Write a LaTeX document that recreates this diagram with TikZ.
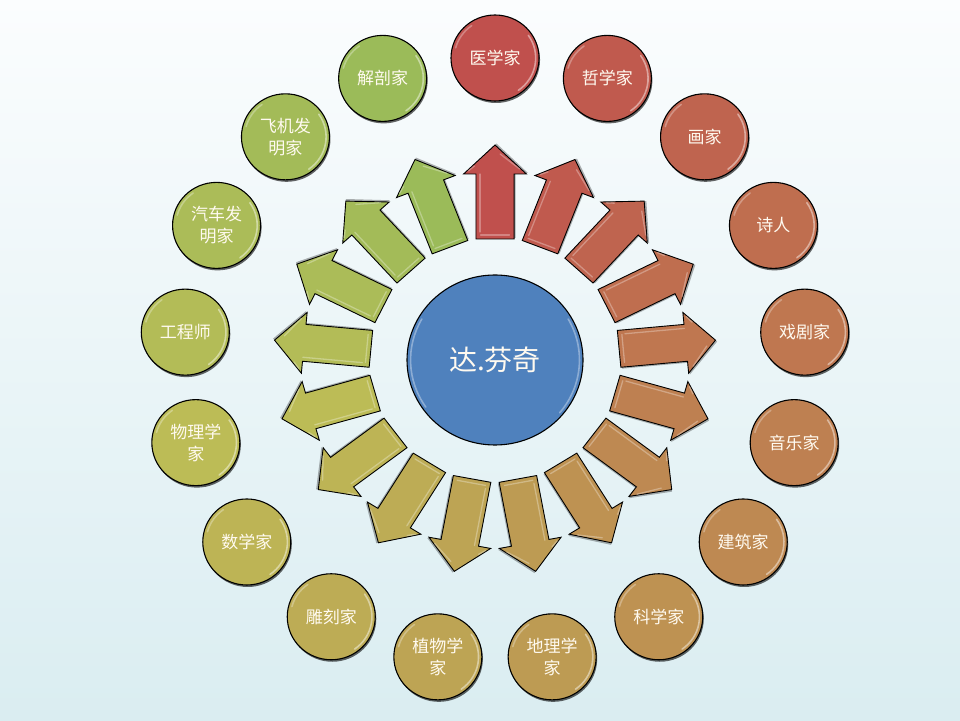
\documentclass[tikz,border=0pt]{standalone}
\usepackage{fontspec}
\newfontfamily\cjk{Noto Sans CJK SC}
\usetikzlibrary{shapes.geometric}
\definecolor{bgtop}{RGB}{251,253,254}
\definecolor{bgbot}{RGB}{218,237,241}
\definecolor{hubblue}{RGB}{79,129,189}
\definecolor{labeltext}{RGB}{255,250,240}
\begin{document}
\begin{tikzpicture}[x=1pt,y=1pt,
  ball/.style={ellipse, minimum width=88pt, minimum height=86pt, inner sep=0pt,
    draw=black, line width=1.1pt, text=labeltext,
    font=\cjk\fontsize{17}{22}\selectfont, align=center},
  ballshadow/.style={ellipse, minimum width=88pt, minimum height=86pt, inner sep=0pt,
    fill=black, opacity=0.6},
  hub/.style={ellipse, minimum width=176pt, minimum height=170pt, inner sep=0pt,
    draw=black, line width=1.1pt, fill=hubblue, text=labeltext,
    font=\cjk\fontsize{28}{34}\selectfont},
  arrowbody/.style={draw=black, line width=0.9pt, line join=miter},
  gloss/.style={white, opacity=0.45, line width=1.6pt, line cap=round},
  arrowgloss/.style={white, opacity=0.3, line width=1.3pt, line cap=round}
]
\shade[top color=bgtop, bottom color=bgbot] (0,0) rectangle (960,720);
\useasboundingbox (0,0) rectangle (960,720);
\begin{scope}[shift={(495,360)}, xscale=1.03]
  \foreach \i/\lab in {0/医学家, 1/哲学家, 2/画家, 3/诗人, 4/戏剧家, 5/音乐家,
      6/建筑家, 7/科学家, 8/地理学\\家, 9/植物学\\家, 10/雕刻家, 11/数学家,
      12/物理学\\家, 13/工程师, 14/汽车发\\明家, 15/飞机发\\明家, 16/解剖家} {
    \pgfmathsetmacro\ang{90-\i*360/17}
    \pgfmathsetmacro\hue{1.6+78*\i/16}
    \pgfmathsetmacro\sat{0.599-0.075*\i/16}
    \pgfmathsetmacro\bri{0.753-0.02*\i/16}
    \definecolor{tmpc}{Hsb}{\hue,\sat,\bri}
    \colorlet{cc}[rgb]{tmpc}
    \begin{scope}[rotate=\ang]
      \fill[black, opacity=0.3] (122,-20) -- (187,-20) -- (187,-32) -- (216.5,-1.5)
        -- (187,29) -- (187,17) -- (122,17) -- cycle;
      \draw[arrowbody, fill=cc] (121,-18.5) -- (186,-18.5) -- (186,-30.5) -- (215,0)
        -- (186,30.5) -- (186,18.5) -- (121,18.5) -- cycle;
      \draw[arrowgloss] (125,-14) -- (125,14);
      \draw[arrowgloss] (128,14.5) -- (186,14.5);
      \draw[arrowgloss] (191,-24) -- (206,-5);
      \draw[arrowgloss] (189,26) -- (194,20);
    \end{scope}
    \node[ballshadow] (s\i) at ([shift={(1,-2)}]\ang:302) {};
    \node[ball, fill=cc] (b\i) at (\ang:302) {\lab};
    \draw[gloss] ([shift={(-55:39.5)}]b\i.center) arc[start angle=-55, end angle=35, radius=39.5];
    \draw[gloss, opacity=0.3] ([shift={(125:39.5)}]b\i.center) arc[start angle=125, end angle=165, radius=39.5];
  }
  \node[hub] (c) at (0,0) {达.芬奇};
  \draw[gloss, opacity=0.35] ([shift={(150:82)}]c.center) arc[start angle=150, end angle=215, radius=82];
  \draw[gloss, opacity=0.35] ([shift={(-40:82)}]c.center) arc[start angle=-40, end angle=30, radius=82];
\end{scope}
\end{tikzpicture}
\end{document}
